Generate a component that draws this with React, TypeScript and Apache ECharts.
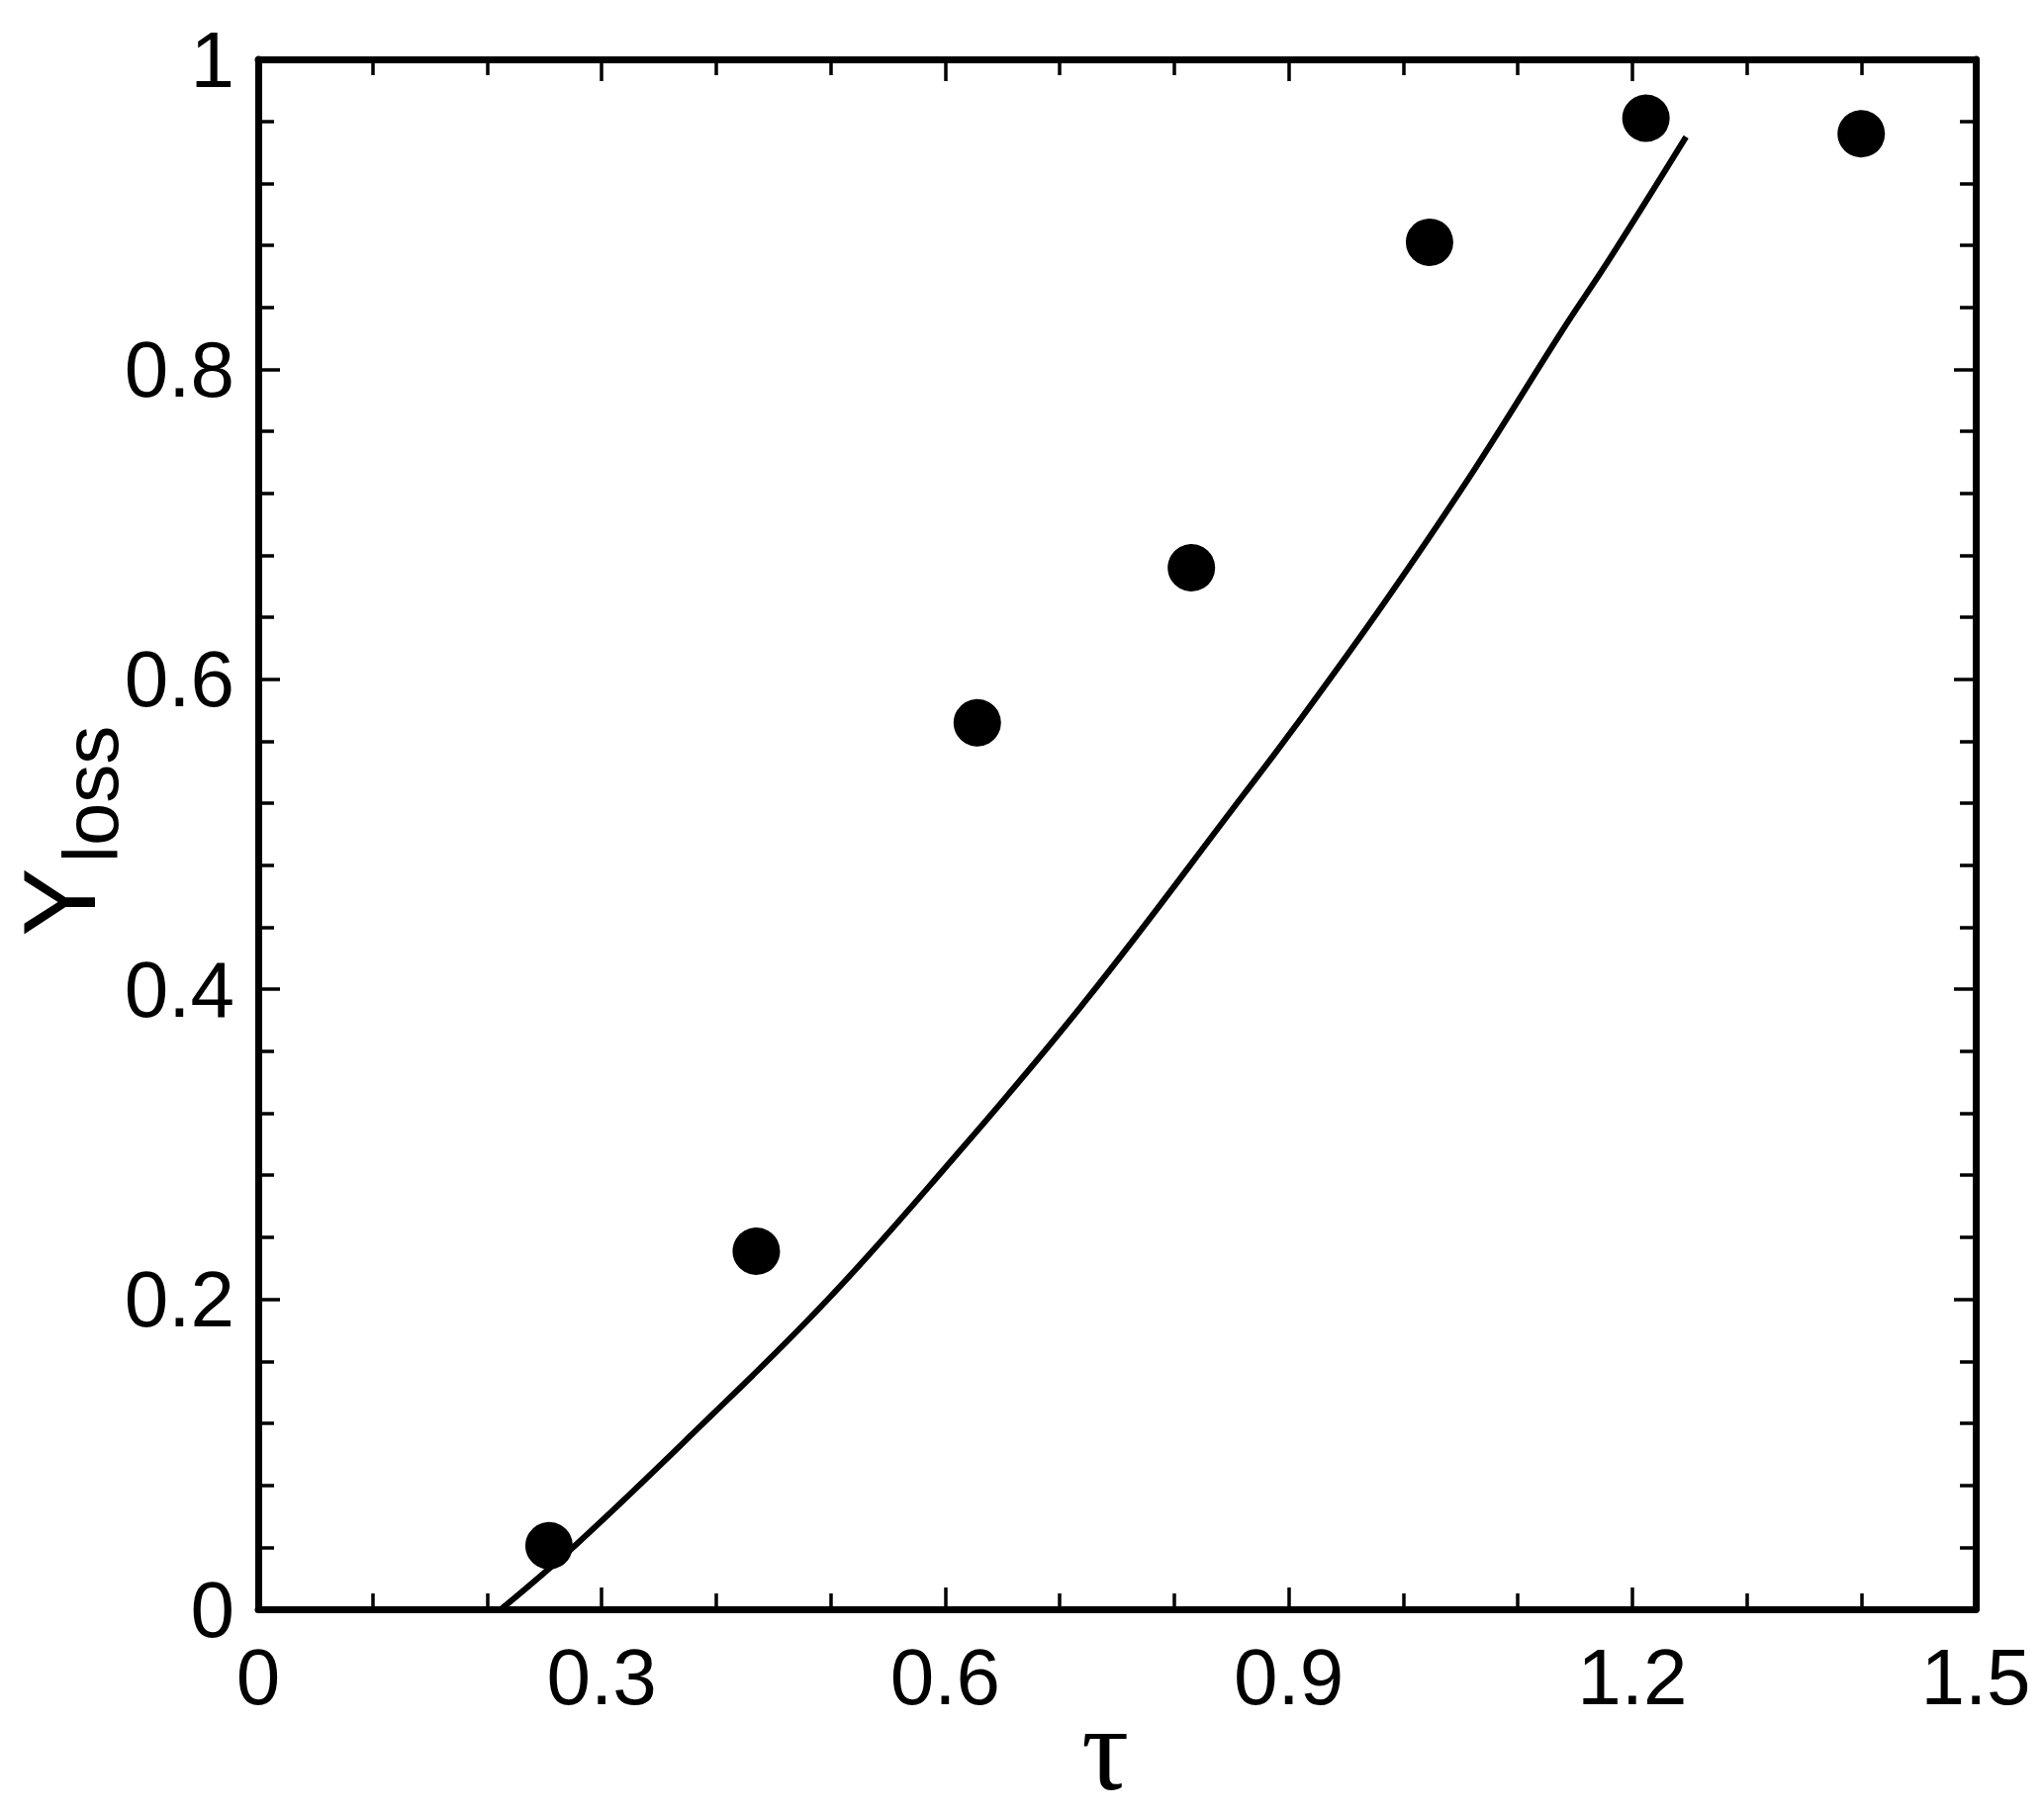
import React, { useEffect, useRef } from 'react';
import * as echarts from 'echarts';

// measured points (filled circles)
const tauMeasured = [0.254, 0.435, 0.628, 0.815, 1.023, 1.212, 1.4];
const yLossMeasured = [0.041, 0.231, 0.572, 0.672, 0.882, 0.962, 0.952];

// model curve (solid line)
const tauCurve = [0.212, 0.278, 0.379, 0.495, 0.599, 0.722, 0.861, 0.906, 0.984, 1.061, 1.138, 1.18, 1.247];
const yLossCurve = [0, 0.042, 0.113, 0.198, 0.284, 0.392, 0.526, 0.570, 0.650, 0.734, 0.824, 0.871, 0.95];

const xTickLabels = ['0', '0.3', '0.6', '0.9', '1.2', '1.5'];
const yTickLabels = ['0', '0.2', '0.4', '0.6', '0.8', '1'];

const FONT = "'Liberation Sans', Arial, sans-serif";
const SERIF = "'Liberation Serif', 'Times New Roman', serif";

const lineCol = { color: '#000', width: 7 };
const tickCol = { color: '#000', width: 3.5 };

const makeAxis = (
  pos: string,
  max: number,
  interval: number,
  minorSplit: number,
  labels: string[] | null,
  margin: number
): any => ({
  type: 'value',
  position: pos,
  min: 0,
  max: max,
  interval: interval,
  axisLine: { show: true, onZero: false, lineStyle: lineCol },
  axisTick: { show: true, inside: true, length: 22, lineStyle: tickCol },
  minorTick: { show: true, splitNumber: minorSplit, length: 16, lineStyle: tickCol },
  splitLine: { show: false },
  minorSplitLine: { show: false },
  axisLabel: labels
    ? {
        show: true,
        showMinLabel: true,
        showMaxLabel: true,
        margin: margin,
        fontSize: 80,
        fontFamily: FONT,
        color: '#000',
        formatter: (v: number) => labels[Math.round(v / interval)],
      }
    : { show: false },
});

const App: React.FC = () => {
  const chartRef: any = useRef(null);

  useEffect(() => {
    document.body.style.margin = '0';
    const chart = echarts.init(chartRef.current, null, { renderer: 'svg' });
    const option = {
      animation: false,
      backgroundColor: '#fff',
      grid: { left: 261, right: 69, top: 60, bottom: 206 },
      xAxis: [
        makeAxis('bottom', 1.5, 0.3, 3, xTickLabels, 28),
        makeAxis('top', 1.5, 0.3, 3, null, 0),
      ],
      yAxis: [
        makeAxis('left', 1, 0.2, 5, yTickLabels, 24),
        makeAxis('right', 1, 0.2, 5, null, 0),
      ],
      graphic: [
        {
          type: 'text',
          x: 1117,
          y: 1768,
          style: {
            text: 'τ',
            fontSize: 120,
            fontFamily: SERIF,
            fill: '#000',
            align: 'center',
            verticalAlign: 'middle',
          },
        },
        {
          type: 'text',
          x: 60,
          y: 912,
          rotation: Math.PI / 2,
          style: {
            text: 'Y',
            fontSize: 104,
            fontFamily: FONT,
            fill: '#000',
            align: 'center',
            verticalAlign: 'middle',
          },
        },
        {
          type: 'text',
          x: 92,
          y: 803,
          rotation: Math.PI / 2,
          style: {
            text: 'loss',
            fontSize: 78,
            fontFamily: FONT,
            fill: '#000',
            align: 'center',
            verticalAlign: 'middle',
          },
        },
      ],
      series: [
        {
          type: 'line',
          xAxisIndex: 0,
          yAxisIndex: 0,
          smooth: 0.4,
          showSymbol: false,
          data: tauCurve.map((t, i) => [t, yLossCurve[i]]),
          lineStyle: { color: '#000', width: 6 },
        },
        {
          type: 'scatter',
          xAxisIndex: 0,
          yAxisIndex: 0,
          symbol: 'circle',
          symbolSize: 52,
          data: tauMeasured.map((t, i) => [t, yLossMeasured[i]]),
          itemStyle: { color: '#000', borderColor: '#fff', borderWidth: 4, opacity: 1 },
        },
      ],
    };
    chart.setOption(option);
    return () => {
      chart.dispose();
    };
  }, []);

  return <div ref={chartRef} style={{ width: 2066, height: 1833 }}></div>;
};

export default App;
